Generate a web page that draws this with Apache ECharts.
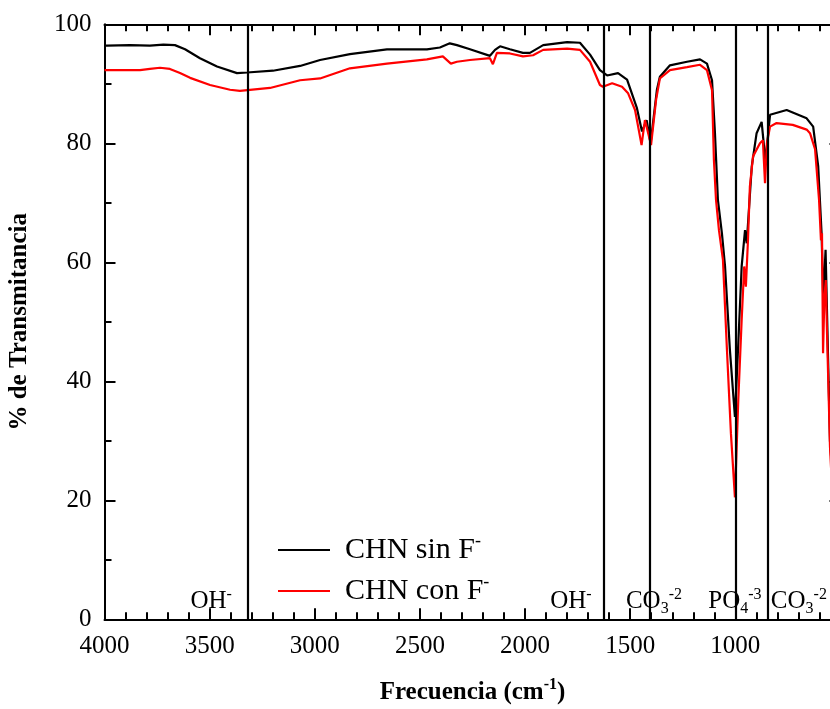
<!DOCTYPE html>
<html>
<head>
<meta charset="utf-8">
<script src="https://cdn.jsdelivr.net/npm/echarts@6/dist/echarts.min.js"></script>
<style>html,body{margin:0;padding:0;background:#fff;}#c{width:830px;height:709px;}</style>
</head>
<body>
<div id="c"></div>
<script>
// ---- data ----
const seriesNames = ['CHN sin F-', 'CHN con F-'];
const wnSin = [4000,3988,3879,3784,3720,3665,3617,3546,3465,3370,3322,3199,3070,2975,2833,2657,2467,2405,2358,2324,2262,2167,2143,2119,2072,2010,1977,1914,1800,1739,1691,1644,1610,1558,1515,1468,1444,1422,1403,1373,1359,1311,1230,1168,1135,1111,1097,1083,1064,1049,1026,1002,986,970,954,946,922,899,875,857,835,756,661,630,606,590,582,571,550,530,500];
const tSin = [96.4,96.4,96.5,96.4,96.6,96.5,95.8,94.3,92.9,91.8,91.9,92.2,93.0,94.0,95.0,95.8,95.8,96.1,96.8,96.5,95.8,94.7,95.7,96.3,95.8,95.2,95.2,96.5,97.0,96.9,94.9,92.3,91.4,91.8,90.7,85.9,82.0,83.9,80.0,89.0,91.2,93.1,93.7,94.1,93.4,90.6,81.7,70.5,64.9,59.3,45.3,34.0,46.4,59.3,65.4,63.2,76.1,81.7,83.6,77.0,84.8,85.6,84.2,82.8,76.1,64.9,53.7,62.1,30.0,20,30];
const wnCon = [4000,3988,3831,3784,3736,3689,3641,3593,3498,3403,3356,3213,3070,2975,2833,2657,2467,2391,2353,2324,2262,2167,2153,2134,2072,2010,1962,1914,1800,1739,1691,1644,1630,1586,1539,1510,1477,1446,1430,1418,1401,1377,1359,1311,1230,1168,1135,1111,1102,1092,1078,1059,1040,1021,1002,986,970,958,950,940,931,916,883,869,859,850,835,804,727,661,645,621,602,593,588,583,577,570,564,550,530,500];
const tCon = [92.3,92.3,92.3,92.5,92.7,92.5,91.8,91.0,89.8,89.0,88.8,89.3,90.6,90.9,92.6,93.4,94.1,94.6,93.4,93.7,94.0,94.3,93.3,95.2,95.1,94.6,94.8,95.7,95.9,95.7,93.7,89.8,89.5,90.1,89.5,88.4,85.6,79.7,83.9,82.2,79.7,87.3,90.9,92.3,92.8,93.2,92.3,88.9,77.2,70.5,65.4,60.4,45.3,31.2,20.5,36.9,50.3,59.3,55.9,63.7,72.7,77.8,80.0,80.5,73.3,80,82.8,83.4,83.1,82.3,81.7,79.0,70.5,63.7,64.9,44.7,53.7,57.0,48.0,29,15,20];
// band marker lines (cm-1)
const bandLines = [3319, 1625, 1406, 1000, 844];
// band annotations: wavenumber position, main text, subscript, superscript
const bandLabelW = [3493, 1782, 1387, 1002, 698];
const bandLabelMain = ['OH', 'OH', 'CO', 'PO', 'CO'];
const bandLabelSub = ['', '', '3', '4', '3'];
const bandLabelSup = ['-', '-', '-2', '-3', '-2'];
const bandLabelT = 3.0;
const xTicks = {min: 500, max: 4000, interval: 500};
const xTickLabels = ['', '1000', '1500', '2000', '2500', '3000', '3500', '4000'];
const yTicks = {min: 0, max: 100, interval: 20};

const FONT = "'Liberation Serif','Times New Roman',serif";
const chart = echarts.init(document.getElementById('c'), null, {renderer: 'canvas'});

function pairs(w, t) { return w.map((x, i) => [x, t[i]]); }

const richBase = {
  m: {fontSize: 25, fontFamily: FONT, color: '#000', lineHeight: 30, verticalAlign: 'middle'},
  sup: {fontSize: 16, fontFamily: FONT, color: '#000', lineHeight: 16, verticalAlign: 'top'},
  sub: {fontSize: 16, fontFamily: FONT, color: '#000', lineHeight: 16, verticalAlign: 'bottom'}
};

const markData = bandLabelW.map((w, i) => {
  let f = '{m|' + bandLabelMain[i] + '}';
  if (bandLabelSub[i]) f += '{sub|' + bandLabelSub[i] + '}';
  f += '{sup|' + bandLabelSup[i] + '}';
  return {coord: [w, bandLabelT], label: {formatter: f}};
});

const commonX = {
  type: 'value', inverse: true, min: xTicks.min, max: xTicks.max, interval: xTicks.interval,
  axisLine: {show: true, onZero: false, lineStyle: {color: '#000', width: 2}},
  axisTick: {show: true, inside: true, length: 11, lineStyle: {color: '#000', width: 2}},
  minorTick: {show: true, splitNumber: 5, length: 7, lineStyle: {color: '#000', width: 2}},
  splitLine: {show: false}
};
const commonY = {
  type: 'value', min: yTicks.min, max: yTicks.max, interval: yTicks.interval,
  axisLine: {show: true, onZero: false, lineStyle: {color: '#000', width: 2}},
  axisTick: {show: true, inside: true, length: 11, lineStyle: {color: '#000', width: 2}},
  minorTick: {show: true, splitNumber: 2, length: 7, lineStyle: {color: '#000', width: 2}},
  splitLine: {show: false}
};

chart.setOption({
  animation: false,
  backgroundColor: '#fff',
  grid: {left: 104.5, right: -10.5, top: 24.3, bottom: 89.7, containLabel: false, outerBoundsMode: 'none'},
  xAxis: [
    Object.assign({}, commonX, {
      position: 'bottom',
      axisLabel: {show: true, fontSize: 25, fontFamily: FONT, color: '#000', margin: 15,
        formatter: function (v) { return xTickLabels[Math.round((v - xTicks.min) / xTicks.interval)] || ''; }},
      name: '{b|Frecuencia (cm}{bs|-1}{b|)}',
      nameLocation: 'middle', nameGap: 58,
      nameTextStyle: {rich: {
        b: {fontSize: 25, fontWeight: 'bold', fontFamily: FONT, color: '#000', lineHeight: 30, verticalAlign: 'middle'},
        bs: {fontSize: 16, fontWeight: 'bold', fontFamily: FONT, color: '#000', lineHeight: 16, verticalAlign: 'top'}
      }}
    }),
    Object.assign({}, commonX, {position: 'top', axisLabel: {show: false}})
  ],
  yAxis: [
    Object.assign({}, commonY, {
      position: 'left',
      axisLabel: {show: true, fontSize: 25, fontFamily: FONT, color: '#000', margin: 13},
      name: '% de Transmitancia',
      nameLocation: 'middle', nameGap: 72, nameRotate: 90,
      nameTextStyle: {fontSize: 25, fontWeight: 'bold', fontFamily: FONT, color: '#000'}
    }),
    Object.assign({}, commonY, {position: 'right', axisLabel: {show: false}})
  ],
  legend: {
    show: true, orient: 'vertical', left: 273, top: 527,
    icon: 'rect', itemWidth: 52, itemHeight: 2, itemGap: 8,
    data: seriesNames,
    formatter: function (name) {
      const base = name.slice(0, -1);
      return '{t|' + base + '}{s|-}';
    },
    textStyle: {
      rich: {
        t: {fontSize: 30, fontFamily: FONT, color: '#000', lineHeight: 36, padding: [0, 0, 0, 10], verticalAlign: 'middle'},
        s: {fontSize: 18, fontFamily: FONT, color: '#000', lineHeight: 18, verticalAlign: 'top'}
      }
    }
  },
  series: [
    {
      name: seriesNames[0], type: 'line', data: pairs(wnSin, tSin),
      showSymbol: false, symbol: 'none', smooth: false,
      lineStyle: {color: '#000', width: 2.2}, itemStyle: {color: '#000'}, z: 2
    },
    {
      name: seriesNames[1], type: 'line', data: pairs(wnCon, tCon),
      showSymbol: false, symbol: 'none', smooth: false,
      lineStyle: {color: '#ff0000', width: 2.2}, itemStyle: {color: '#ff0000'}, z: 3,
      markLine: {
        silent: true, symbol: ['none', 'none'], animation: false,
        lineStyle: {color: '#000', width: 2.2, type: 'solid'},
        label: {show: false},
        data: bandLines.map(v => ({xAxis: v}))
      },
      markPoint: {
        silent: true, symbol: 'rect', symbolSize: 1, animation: false,
        itemStyle: {color: 'rgba(0,0,0,0)'},
        label: {show: true, position: 'inside', rich: richBase},
        data: markData
      }
    }
  ]
});
</script>
</body>
</html>
